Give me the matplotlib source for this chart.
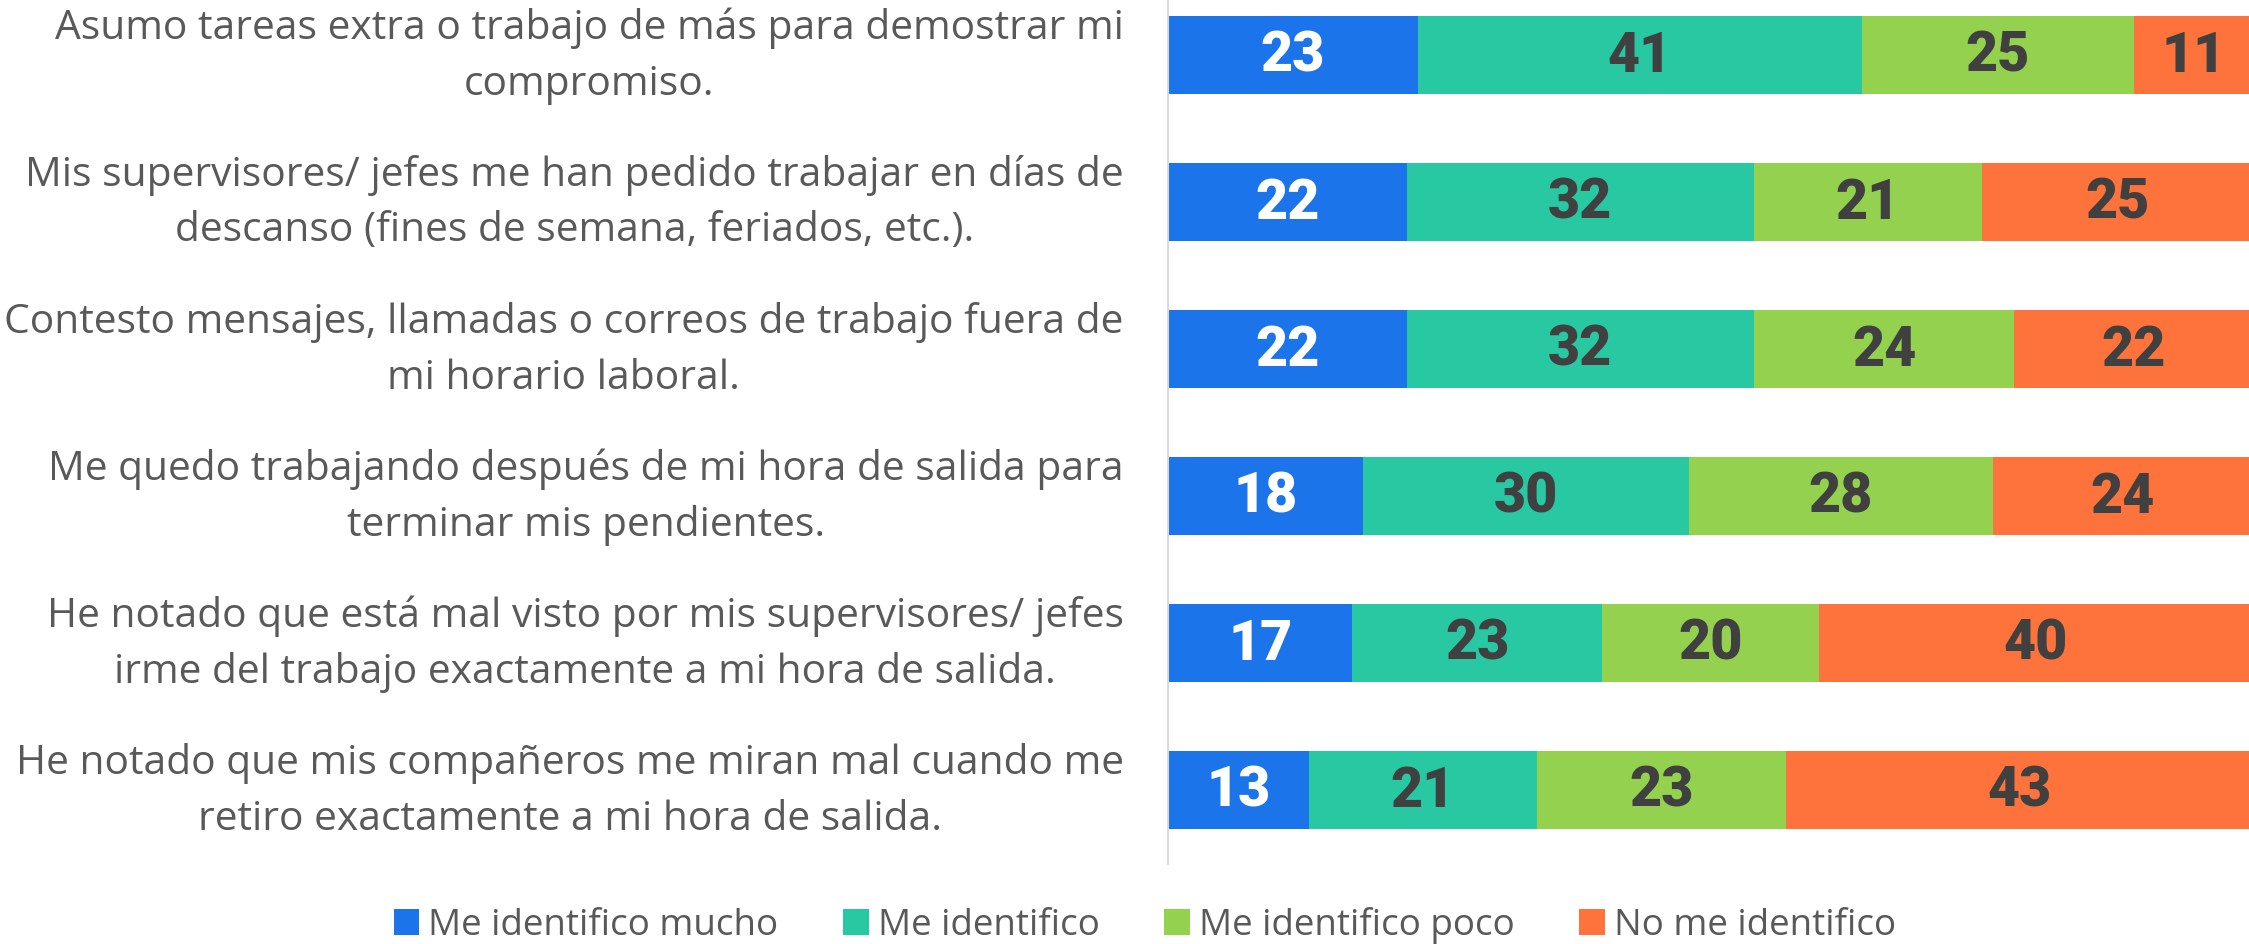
import numpy as np
import matplotlib
matplotlib.use("Agg")
from matplotlib import pyplot as plt
from matplotlib.patches import Patch

# encuesta: nivel de identificacion con cada afirmacion (%)
afirmaciones = [
    "Asumo tareas extra o trabajo de más para demostrar mi\ncompromiso.",
    "Mis supervisores/ jefes me han pedido trabajar en días de\ndescanso (fines de semana, feriados, etc.).",
    "Contesto mensajes, llamadas o correos de trabajo fuera de\nmi horario laboral.",
    "Me quedo trabajando después de mi hora de salida para\nterminar mis pendientes.",
    "He notado que está mal visto por mis supervisores/ jefes\nirme del trabajo exactamente a mi hora de salida.",
    "He notado que mis compañeros me miran mal cuando me\nretiro exactamente a mi hora de salida.",
]
series = ["Me identifico mucho", "Me identifico", "Me identifico poco", "No me identifico"]
mucho = [23, 22, 22, 18, 17, 13]
identifico = [41, 32, 32, 30, 23, 21]
poco = [25, 21, 24, 28, 20, 23]
no_identifico = [11, 25, 22, 24, 40, 43]

colores = ["#1B74EA", "#27C8A2", "#93D14E", "#FE733C"]
color_num = ["white", "#404040", "#404040", "#404040"]

texto_font = "Open Sans"
num_font = "Roboto"
gris = "#595959"

fig = plt.figure(figsize=(22.49, 9.45), dpi=100)
ax = fig.add_axes([1168 / 2249, 80 / 945, 1085 / 2249, 882.5 / 945])

y = np.arange(len(afirmaciones))
izq = np.zeros(len(afirmaciones))
for nombre, vals, c, cn in zip(series, [mucho, identifico, poco, no_identifico], colores, color_num):
    vals = np.array(vals)
    ax.barh(y, vals, left=izq, height=0.53, color=c, label=nombre)
    for yi, l, v in zip(y, izq, vals):
        ax.text(l + v / 2, yi, str(v), ha="center", va="center", color=cn,
                fontsize=40, fontweight="heavy", family=num_font)
    izq += vals

ax.set_xlim(0, 100)
ax.set_ylim(len(afirmaciones) - 0.5, -0.5)
ax.set_xticks([])
ax.set_yticks(y)
ax.set_yticklabels(afirmaciones, fontsize=29.3, color=gris, family=texto_font,
                   linespacing=1.5)
for lbl in ax.get_yticklabels():
    lbl.set_multialignment("center")
    lbl.set_verticalalignment("center")
ax.tick_params(axis="y", length=0, pad=32)
for s in ["top", "right", "bottom"]:
    ax.spines[s].set_visible(False)
ax.spines["left"].set_color("#D9D9D9")
ax.spines["left"].set_linewidth(1.5)

handles = [Patch(facecolor=c, edgecolor="none") for c in colores]
fig.legend(handles, series, loc="center", bbox_to_anchor=(1145 / 2249, 1 - 926 / 945),
           ncol=4, frameon=False, prop={"family": texto_font, "size": 26.5},
           labelcolor=gris, handlelength=0.7, handleheight=0.7, handletextpad=0.25,
           columnspacing=1.75)

fig.savefig("out.png", dpi=100)
